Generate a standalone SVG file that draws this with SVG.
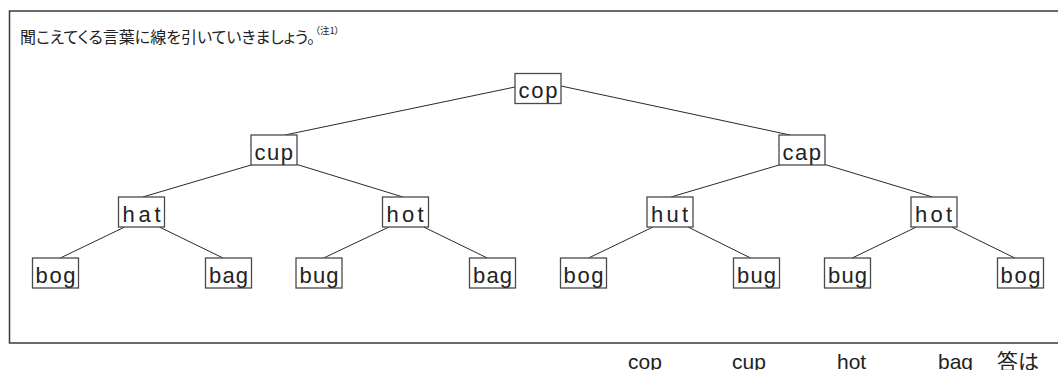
<svg xmlns="http://www.w3.org/2000/svg" width="1058" height="370" viewBox="0 0 1058 370">
<style>
.frame{fill:none;stroke:#3a3a3a;stroke-width:1.5}
.box{fill:#fff;stroke:#4a4a4a;stroke-width:1.3}
.lbl{font-family:"Liberation Sans",Arial,sans-serif;font-size:22px;fill:#222}
.edge{stroke:#2a2a2a;stroke-width:1;fill:none}
.title{font-family:"Noto Sans CJK JP","Noto Sans",sans-serif;font-size:16px;fill:#222;font-feature-settings:"palt"}
.sup{font-size:9.5px}
.ans{font-family:"Liberation Sans",Arial,sans-serif;font-size:21px;fill:#222}
.ansj{font-family:"Noto Sans CJK JP",sans-serif;font-size:21px;fill:#222}
</style>
<rect class="frame" x="9.5" y="11" width="1060" height="332"/>
<text class="title" x="20" y="43">聞こえてくる言葉に線を引いていきましょう。<tspan class="sup" dy="-9">（注1）</tspan></text>
<g id="connectors">
<line class="edge" x1="515" y1="87" x2="285" y2="135"/>
<line class="edge" x1="561" y1="86" x2="790" y2="135"/>
<line class="edge" x1="251" y1="165" x2="142.7" y2="197"/>
<line class="edge" x1="297" y1="164.5" x2="403" y2="197"/>
<line class="edge" x1="779" y1="165" x2="671" y2="197"/>
<line class="edge" x1="825" y1="164.5" x2="932.5" y2="197"/>
<line class="edge" x1="124.7" y1="227" x2="60.3" y2="258"/>
<line class="edge" x1="159.4" y1="227" x2="223" y2="258"/>
<line class="edge" x1="389" y1="227" x2="323.7" y2="258"/>
<line class="edge" x1="423.6" y1="227" x2="487.3" y2="258"/>
<line class="edge" x1="653" y1="227" x2="588.6" y2="258"/>
<line class="edge" x1="688" y1="227" x2="750.6" y2="258"/>
<line class="edge" x1="916.4" y1="227" x2="852.2" y2="258"/>
<line class="edge" x1="951.7" y1="227" x2="1014.8" y2="258"/>
</g>
<g id="n-cop"><rect class="box" x="515" y="73.5" width="46" height="30"/><text class="lbl" x="518.5" y="98" textLength="39" lengthAdjust="spacing">cop</text></g>
<g id="n-cup"><rect class="box" x="251" y="135" width="46" height="30"/><text class="lbl" x="254.5" y="159.5" textLength="38.5" lengthAdjust="spacing">cup</text></g>
<g id="n-cap"><rect class="box" x="779" y="135" width="46" height="30"/><text class="lbl" x="782.5" y="159.5" textLength="38.5" lengthAdjust="spacing">cap</text></g>
<g id="n-hat"><rect class="box" x="118.5" y="197" width="46" height="30"/><text class="lbl" x="122.5" y="221.5" textLength="38" lengthAdjust="spacing">hat</text></g>
<g id="n-hot1"><rect class="box" x="382.5" y="197" width="46" height="30"/><text class="lbl" x="386.5" y="221.5" textLength="37" lengthAdjust="spacing">hot</text></g>
<g id="n-hut"><rect class="box" x="647" y="197" width="46" height="30"/><text class="lbl" x="651" y="221.5" textLength="37" lengthAdjust="spacing">hut</text></g>
<g id="n-hot2"><rect class="box" x="911" y="197" width="46" height="30"/><text class="lbl" x="915" y="221.5" textLength="37" lengthAdjust="spacing">hot</text></g>
<g id="n-bog1"><rect class="box" x="32.5" y="258" width="46" height="30"/><text class="lbl" x="35.5" y="282.5" textLength="40" lengthAdjust="spacing">bog</text></g>
<g id="n-bag1"><rect class="box" x="205.5" y="258" width="46" height="30"/><text class="lbl" x="209" y="282.5" textLength="39" lengthAdjust="spacing">bag</text></g>
<g id="n-bug1"><rect class="box" x="296" y="258" width="46" height="30"/><text class="lbl" x="299.5" y="282.5" textLength="39" lengthAdjust="spacing">bug</text></g>
<g id="n-bag2"><rect class="box" x="469.5" y="258" width="46" height="30"/><text class="lbl" x="473" y="282.5" textLength="39" lengthAdjust="spacing">bag</text></g>
<g id="n-bog3"><rect class="box" x="560.5" y="258" width="46" height="30"/><text class="lbl" x="563.5" y="282.5" textLength="40" lengthAdjust="spacing">bog</text></g>
<g id="n-bug2"><rect class="box" x="733.5" y="258" width="46" height="30"/><text class="lbl" x="737" y="282.5" textLength="39" lengthAdjust="spacing">bug</text></g>
<g id="n-bug3"><rect class="box" x="824.5" y="258" width="46" height="30"/><text class="lbl" x="828" y="282.5" textLength="39" lengthAdjust="spacing">bug</text></g>
<g id="n-bog4"><rect class="box" x="997.5" y="258" width="46" height="30"/><text class="lbl" x="1000.5" y="282.5" textLength="40" lengthAdjust="spacing">bog</text></g>
<text class="ans" x="628" y="369">cop</text>
<text class="ans" x="732" y="369">cup</text>
<text class="ans" x="837" y="369">hot</text>
<text class="ans" x="938" y="369">bag</text>
<text class="ansj" x="997" y="369">答は</text>
</svg>
